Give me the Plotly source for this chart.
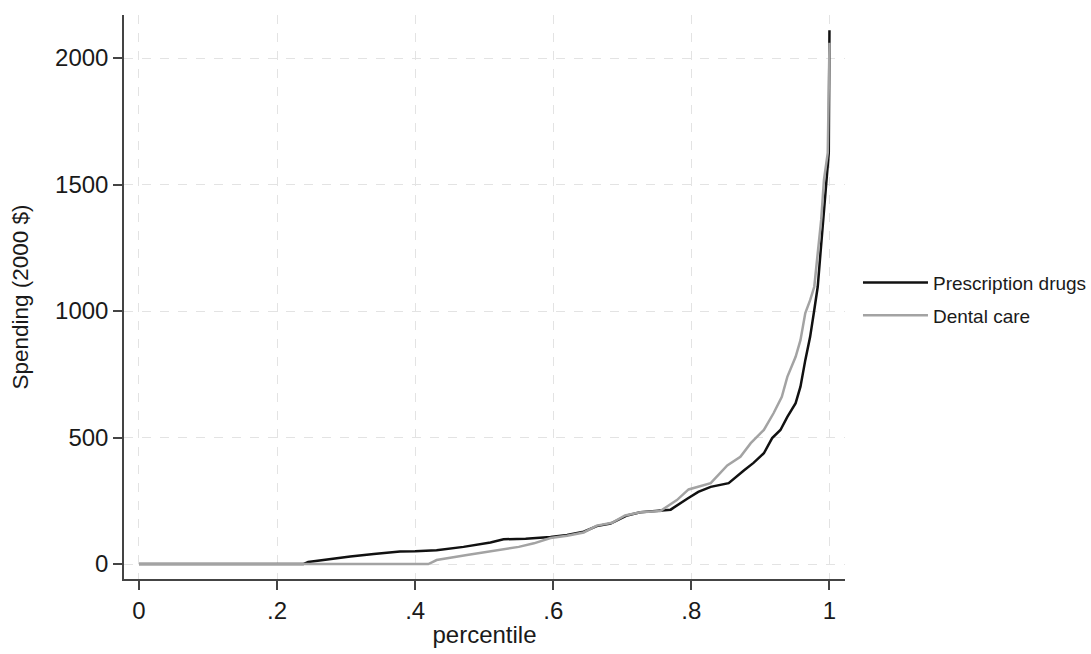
import plotly.graph_objects as go

# Percentile positions and spending values (2000 $)
rx_pct = [0, 0.238, 0.245, 0.27, 0.306, 0.34, 0.378, 0.40, 0.431, 0.47, 0.509, 0.528, 0.56,
          0.596, 0.62, 0.644, 0.663, 0.683, 0.707, 0.726, 0.755, 0.77, 0.794, 0.81, 0.828,
          0.854, 0.876, 0.89, 0.905, 0.917, 0.929, 0.939, 0.951, 0.958, 0.965, 0.972, 0.978,
          0.983, 0.987, 0.991, 0.9957, 0.999, 1.0]
rx_val = [0, 0, 8, 18, 30, 40, 50, 51, 55, 68, 85, 98, 100,
          107, 115, 128, 150, 160, 192, 205, 210, 215, 258, 285, 305,
          320, 370, 400, 438, 498, 530, 582, 636, 701, 806, 898, 1004,
          1096, 1229, 1360, 1491, 1625, 2110]

dn_pct = [0, 0.419, 0.425, 0.431, 0.475, 0.50, 0.528, 0.55, 0.572, 0.596, 0.62, 0.644, 0.663,
          0.685, 0.704, 0.726, 0.755, 0.779, 0.796, 0.81, 0.828, 0.852, 0.871, 0.886, 0.905,
          0.919, 0.931, 0.939, 0.951, 0.958, 0.965, 0.972, 0.978, 0.983, 0.988, 0.992, 0.9975, 1.0]
dn_val = [0, 0, 8, 16, 36, 46, 58, 68, 82, 103, 112, 125, 152,
          163, 192, 205, 210, 253, 295, 305, 320, 390, 424, 478, 530,
          596, 661, 740, 819, 885, 992, 1043, 1096, 1229, 1360, 1518, 1625, 2060]

x_ticks = [0, 0.2, 0.4, 0.6, 0.8, 1]
x_tick_labels = ["0", ".2", ".4", ".6", ".8", "1"]
y_ticks = [0, 500, 1000, 1500, 2000]
y_tick_labels = ["0", "500", "1000", "1500", "2000"]

FONT = "Liberation Sans, Arial, sans-serif"

fig = go.Figure()
fig.add_trace(go.Scatter(x=rx_pct, y=rx_val, mode="lines", name="Prescription drugs",
                         legendgroup="a", line=dict(color="#111111", width=2.5)))
fig.add_trace(go.Scatter(x=dn_pct, y=dn_val, mode="lines", name="Dental care",
                         legendgroup="b", line=dict(color="#a3a3a3", width=2.5)))

fig.update_layout(
    width=1091, height=654,
    margin=dict(l=124, r=246, t=15, b=75, autoexpand=False),
    plot_bgcolor="white", paper_bgcolor="white",
    font=dict(family=FONT, color="#1a1a1a"),
    legend=dict(x=1.018, y=0.496, xanchor="left", yanchor="middle",
                font=dict(size=19, family=FONT), itemwidth=65,
                tracegroupgap=5, traceorder="grouped",
                bgcolor="rgba(0,0,0,0)"),
    xaxis=dict(range=[-0.0217, 1.0225], tickmode="array", tickvals=x_ticks,
               ticktext=x_tick_labels, showline=True, linecolor="#444444", linewidth=1.5,
               ticks="outside", ticklen=9, tickcolor="#444444", tickwidth=1.5,
               showgrid=True, gridcolor="#e3e3e3", griddash="dash", gridwidth=1.2,
               zeroline=False, tickfont=dict(size=24),
               title=dict(text="percentile", font=dict(size=24), standoff=4)),
    yaxis=dict(range=[-59, 2170], tickmode="array", tickvals=y_ticks,
               ticktext=y_tick_labels, showline=True, linecolor="#444444", linewidth=1.5,
               ticks="outside", ticklen=9, tickcolor="#444444", tickwidth=1.5,
               showgrid=True, gridcolor="#e3e3e3", griddash="dash", gridwidth=1.2,
               zeroline=False, tickfont=dict(size=24),
               title=dict(text="Spending (2000 $)", font=dict(size=22.5), standoff=20)),
)

fig.write_html("out.html")
